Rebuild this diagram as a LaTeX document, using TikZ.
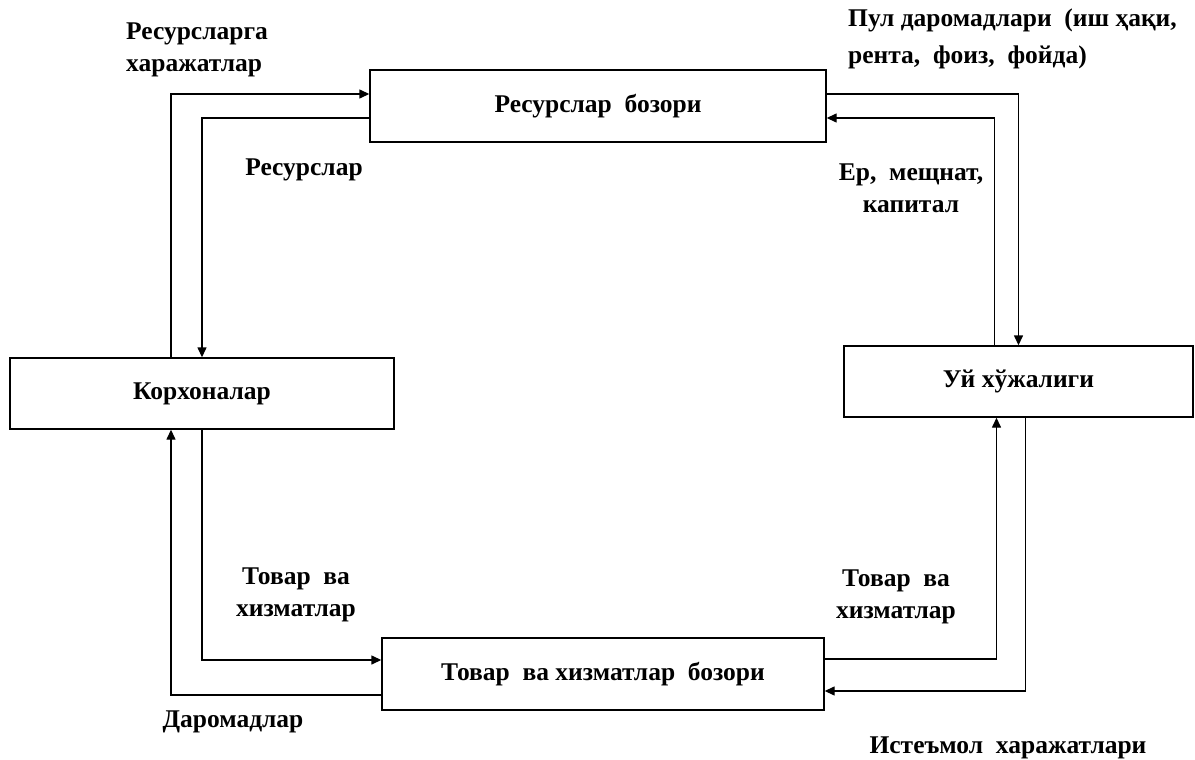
\documentclass[tikz,border=0pt]{standalone}
\usepackage{fontspec}
\setmainfont{Liberation Serif}
\usepackage{tikz}
\usetikzlibrary{arrows.meta}

\begin{document}
\begin{tikzpicture}[x=1pt,y=-1pt,
    box/.style={draw,line width=1.4pt,minimum width=#1,minimum height=72pt,inner sep=0pt,
                font=\fontsize{25.5}{30}\selectfont\bfseries},
    flow/.style={line width=1.4pt,-{Triangle[length=10pt,width=9pt]}},
    lbl/.style={inner sep=0pt,font=\fontsize{25.5}{32}\selectfont\bfseries}]
                \useasboundingbox (0,0) rectangle (1195,760);

                \node[box=456pt] (res) at (598,106) {Ресурслар\ \ бозори};
                \node[box=384pt,minimum height=71pt] (korx) at (202,393.5) {Корхоналар};
                \node[box=349pt,minimum height=71pt] (uy) at (1018.5,381.5) {Уй хўжалиги};
                \node[box=442pt] (tovar) at (603,674) {Товар\ \ ва хизматлар\ \ бозори};

                \draw[flow] ([xshift=-31pt]korx.north) |- ([yshift=12pt]res.west);
                \draw[flow] ([yshift=-12pt]res.west) -| (korx.north);
                \draw[flow] ([yshift=12pt]res.east) -| (uy.north);
                \draw[flow] ([xshift=-24pt]uy.north) |- ([yshift=-12pt]res.east);
                \draw[flow] (korx.south) |- ([yshift=14pt]tovar.west);
                \draw[flow] ([yshift=-21pt]tovar.west) -| ([xshift=-31pt]korx.south);
                \draw[flow] ([yshift=15pt]tovar.east) -| ([xshift=-22pt]uy.south);
                \draw[flow] ([xshift=7pt]uy.south) |- ([yshift=-17pt]tovar.east);

                \node[lbl,align=left,anchor=west] (xarajat) at (126,50) {Ресурсларга\\харажатлар};
                \node[lbl] (resurs) at (304,170) {Ресурслар};
                \node[lbl,align=left,anchor=west] (pul) at (848,39) {Пул\ даромадлари\ \ (иш\ ҳақи,\\[5pt]рента,\ \ фоиз,\ \ фойда)};
                \node[lbl,align=center] (omil) at (911,188) {Ер,\ \ мещнат,\\капитал};
                \node[lbl,align=center] (tovarl) at (296,595) {Товар\ \ ва\\хизматлар};
                \node[lbl,align=center] (tovarr) at (896,597) {Товар\ \ ва\\хизматлар};
                \node[lbl] (darom) at (233,722) {Даромадлар};
                \node[lbl] (istemol) at (1008,748) {Истеъмол\ \ харажатлари};
            \end{tikzpicture}
\end{document}
